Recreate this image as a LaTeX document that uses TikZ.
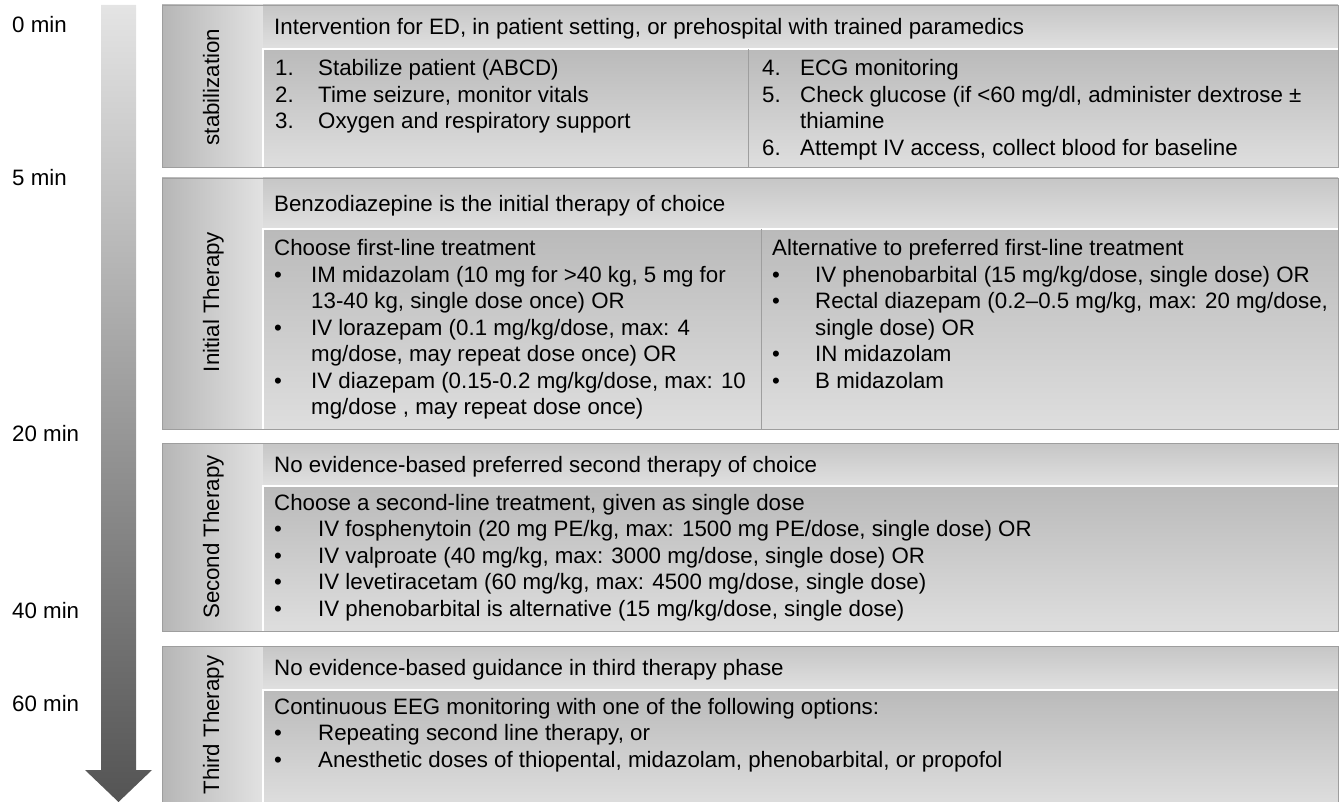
\documentclass[tikz,border=0pt]{standalone}
\usepackage{fontspec}
\setmainfont{Liberation Sans}
\usetikzlibrary{positioning}

\definecolor{arrowtop}{RGB}{228,228,228}
\definecolor{arrowbot}{RGB}{84,84,84}
\definecolor{phaseleft}{RGB}{182,182,182}
\definecolor{phaseright}{RGB}{226,226,226}
\definecolor{headtop}{RGB}{198,198,198}
\definecolor{headbot}{RGB}{224,224,224}
\definecolor{bodytop}{RGB}{186,186,186}
\definecolor{bodybot}{RGB}{222,222,222}
\definecolor{framegray}{RGB}{158,158,158}

\newcommand{\boxfont}{\fontsize{22.3}{26.5}\selectfont}

\begin{document}
\begin{tikzpicture}[x=1pt,y=-1pt,
  txt/.style={anchor=base west,inner sep=0pt,font=\boxfont},
  phasetxt/.style={rotate=90,anchor=base,inner sep=0pt,font=\boxfont},
  phasecol/.style={left color=phaseleft,right color=phaseright},
  headrow/.style={top color=headtop,bottom color=headbot},
  bodybox/.style={top color=bodytop,bottom color=bodybot},
  frameline/.style={draw=framegray,line width=0.8pt},
  whiteline/.style={draw=white,line width=2pt}]

  \useasboundingbox (0,0) rectangle (1341,802);

  % Draw time arrow
  \shade[top color=arrowtop,bottom color=arrowbot] (101,5) -- (136,5) -- (136,770)
    -- (152,770) -- (118.5,802) -- (85,770) -- (101,770) -- cycle;

  % Draw time marks left of arrow
  \node[txt] (tZero)   at (12,33)  {0 min};
  \node[txt] (tFive)   at (12,186) {5 min};
  \node[txt] (tTwenty) at (12,441) {20 min};
  \node[txt] (tForty)  at (12,618) {40 min};
  \node[txt] (tSixty)  at (12,711) {60 min};

  %Draw stabilization block
  \shade[phasecol] (162,5) rectangle (263,167);
  \shade[headrow] (263,5) rectangle (1338,49);
  \shade[bodybox] (263,49) rectangle (748,167);
  \shade[bodybox] (748,49) rectangle (1338,167);
  \draw[whiteline] (263,167) -- (263,49) -- (1338,49);
  \draw[frameline] (748,49) -- (748,167);
  \draw[frameline] (162,5) rectangle (1338,167);

  %Draw initial therapy block
  \shade[phasecol] (162,178) rectangle (263,429);
  \shade[headrow] (263,178) rectangle (1338,229);
  \shade[bodybox] (263,229) rectangle (761,429);
  \shade[bodybox] (761,229) rectangle (1338,429);
  \draw[whiteline] (263,429) -- (263,229) -- (1338,229);
  \draw[frameline] (761,229) -- (761,429);
  \draw[frameline] (162,178) rectangle (1338,429);

  %Draw second therapy block
  \shade[phasecol] (162,443) rectangle (263,631);
  \shade[headrow] (263,443) rectangle (1338,486);
  \shade[bodybox] (263,486) rectangle (1338,631);
  \draw[whiteline] (263,631) -- (263,486) -- (1338,486);
  \draw[frameline] (162,443) rectangle (1338,631);

  %Draw third therapy block
  \shade[phasecol] (162,646) rectangle (263,806);
  \shade[headrow] (263,646) rectangle (1338,690);
  \shade[bodybox] (263,690) rectangle (1338,806);
  \draw[whiteline] (263,806) -- (263,690) -- (1338,690);
  \draw[frameline] (162,646) rectangle (1338,806);

  % Phase names in the left column
  \node[phasetxt] (pStab)   at (219,87)  {stabilization};
  \node[phasetxt] (pInit)   at (219,302) {Initial Therapy};
  \node[phasetxt] (pSecond) at (219,537) {Second Therapy};
  \node[phasetxt] (pThird)  at (219,725) {Third Therapy};

  % Stabilization texts
  \node[txt] (stabHead) at (274,35)
    {Intervention for ED, in patient setting, or prehospital with trained paramedics};
  \node[txt] (stabLeft) at (275,76) {\begin{tabular}[t]{@{}p{43pt}@{}l@{}}
    1. & Stabilize patient (ABCD)\\
    2. & Time seizure, monitor vitals\\
    3. & Oxygen and respiratory support
  \end{tabular}};
  \node[txt] (stabRight) at (762,76) {\begin{tabular}[t]{@{}p{38pt}@{}l@{}}
    4. & ECG monitoring\\
    5. & Check glucose (if <60 mg/dl, administer dextrose ±\\
       & thiamine\\
    6. & Attempt IV access, collect blood for baseline
  \end{tabular}};

  % Initial therapy texts
  \node[txt] (initHead) at (274,212) {Benzodiazepine is the initial therapy of choice};
  \node[txt] (initLeft) at (274,256) {\begin{tabular}[t]{@{}p{37pt}@{}l@{}}
    \multicolumn{2}{@{}l@{}}{Choose first-line treatment}\\
    \textbullet & IM midazolam (10 mg for >40 kg, 5 mg for\\
                & 13-40 kg, single dose once) OR\\
    \textbullet & IV lorazepam (0.1 mg/kg/dose, max: 4\\
                & mg/dose, may repeat dose once) OR\\
    \textbullet & IV diazepam (0.15-0.2 mg/kg/dose, max: 10\\
                & mg/dose , may repeat dose once)
  \end{tabular}};
  \node[txt] (initRight) at (772,256) {\begin{tabular}[t]{@{}p{43pt}@{}l@{}}
    \multicolumn{2}{@{}l@{}}{Alternative to preferred first-line treatment}\\
    \textbullet & IV phenobarbital (15 mg/kg/dose, single dose) OR\\
    \textbullet & Rectal diazepam (0.2–0.5 mg/kg, max: 20 mg/dose,\\
                & single dose) OR\\
    \textbullet & IN midazolam\\
    \textbullet & B midazolam
  \end{tabular}};

  % Second therapy texts
  \node[txt] (secHead) at (274,472) {No evidence-based preferred second therapy of choice};
  \node[txt] (secBody) at (274,510) {\begin{tabular}[t]{@{}p{44pt}@{}l@{}}
    \multicolumn{2}{@{}l@{}}{Choose a second-line treatment, given as single dose}\\
    \textbullet & IV fosphenytoin (20 mg PE/kg, max: 1500 mg PE/dose, single dose) OR\\
    \textbullet & IV valproate (40 mg/kg, max: 3000 mg/dose, single dose) OR\\
    \textbullet & IV levetiracetam (60 mg/kg, max: 4500 mg/dose, single dose)\\
    \textbullet & IV phenobarbital is alternative (15 mg/kg/dose, single dose)
  \end{tabular}};

  % Third therapy texts
  \node[txt] (thirdHead) at (274,675) {No evidence-based guidance in third therapy phase};
  \node[txt] (thirdBody) at (274,714) {\begin{tabular}[t]{@{}p{44pt}@{}l@{}}
    \multicolumn{2}{@{}l@{}}{Continuous EEG monitoring with one of the following options:}\\
    \textbullet & Repeating second line therapy, or\\
    \textbullet & Anesthetic doses of thiopental, midazolam, phenobarbital, or propofol
  \end{tabular}};

\end{tikzpicture}
\end{document}
